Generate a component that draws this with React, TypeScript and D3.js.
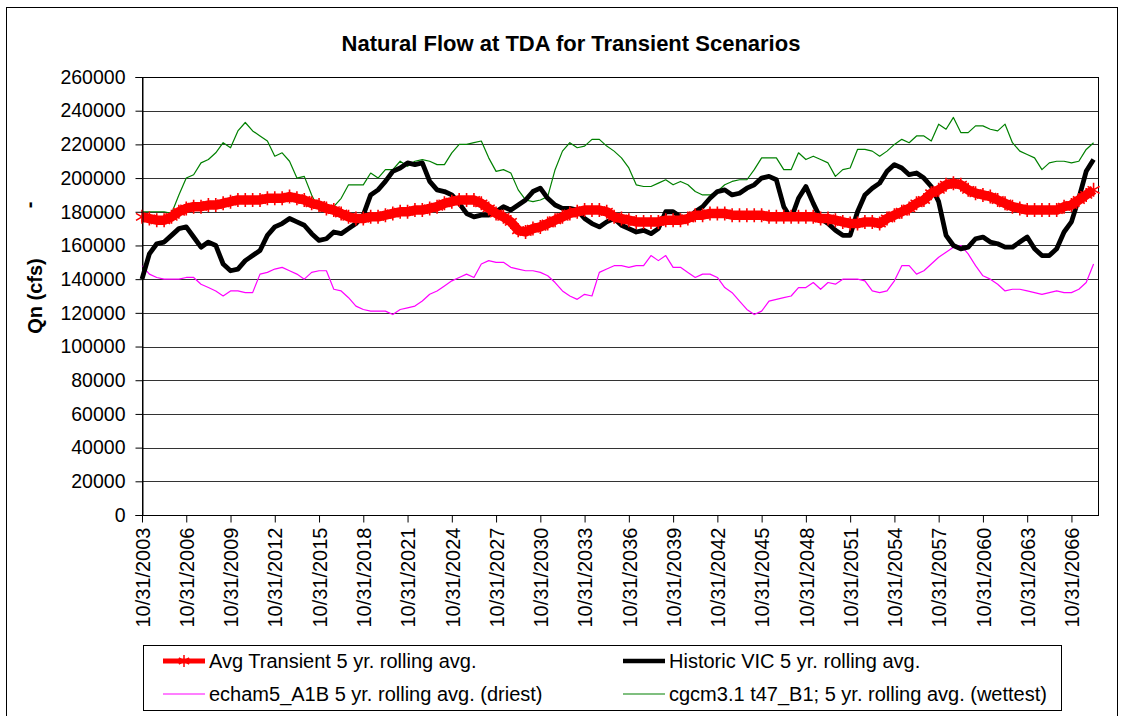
import React, { useRef, useEffect } from "react";
import * as d3 from "d3";

// x-axis category labels, one every 3 years (36 months)
const tickLabels = [
  "10/31/2003", "10/31/2006", "10/31/2009", "10/31/2012", "10/31/2015", "10/31/2018",
  "10/31/2021", "10/31/2024", "10/31/2027", "10/31/2030", "10/31/2033", "10/31/2036",
  "10/31/2039", "10/31/2042", "10/31/2045", "10/31/2048", "10/31/2051", "10/31/2054",
  "10/31/2057", "10/31/2060", "10/31/2063", "10/31/2066",
];

// values every 6 months from 10/31/2003 (cfs)
const avgTransient = [
  177000, 176000, 175000, 175000, 177000, 180000, 182000, 183000, 183000, 184000, 184000, 185000,
  186000, 187000, 187000, 187000, 187000, 188000, 188000, 188000, 189000, 188000, 187000, 185000,
  184000, 182000, 181000, 179000, 177000, 176000, 176000, 177000, 177000,
  178000, 179000, 180000, 180000, 181000, 181000, 182000, 183000, 185000, 186000, 187000, 187000,
  187000, 185000, 182000, 179000, 177000, 174000, 169000, 168000, 170000, 171000, 173000, 175000,
  177000, 179000, 180000, 181000, 181000, 181000, 180000, 177000,
  176000, 175000, 174000, 174000, 174000, 174000, 175000, 175000, 175000, 176000, 178000, 178000,
  179000, 179000, 179000, 178000, 178000, 178000, 178000, 178000, 177000, 177000, 177000, 177000,
  177000, 177000, 177000, 176000, 176000, 175000, 174000, 173000, 173000,
  174000, 174000, 173000, 176000, 178000, 180000, 182000, 185000, 187000, 191000, 193000, 196000,
  197000, 196000, 193000, 191000, 190000, 189000, 187000, 185000, 183000, 182000, 181000, 181000,
  181000, 181000, 181000, 183000, 184000, 187000, 190000, 193000,
];

const historicVic = [
  140000, 155000, 161000, 162000, 166000, 170000, 171000, 165000, 159000, 162000, 160000, 149000,
  145000, 146000, 151000, 154000, 157000, 166000, 171000, 173000, 176000, 174000, 172000, 167000,
  163000, 164000, 168000, 167000, 170000, 173000, 178000, 190000, 193000,
  198000, 204000, 206000, 209000, 208000, 209000, 198000, 193000, 192000, 190000, 185000, 179000,
  177000, 178000, 178000, 180000, 183000, 181000, 184000, 187000, 192000, 194000, 188000, 184000,
  182000, 182000, 181000, 176000, 173000, 171000, 174000, 176000,
  172000, 170000, 168000, 169000, 167000, 170000, 180000, 180000, 177000, 176000, 180000, 183000,
  188000, 192000, 193000, 190000, 191000, 194000, 196000, 200000, 201000, 199000, 183000, 176000,
  188000, 195000, 185000, 176000, 173000, 169000, 166000, 166000, 180000,
  190000, 194000, 197000, 204000, 208000, 206000, 202000, 203000, 200000, 195000, 186000, 166000,
  160000, 158000, 159000, 164000, 165000, 162000, 161000, 159000, 159000, 162000, 165000, 158000,
  154000, 154000, 158000, 168000, 174000, 188000, 204000, 211000,
];

const echam5Driest = [
  148000, 143000, 141000, 140000, 140000, 140000, 141000, 141000, 137000, 135000, 133000, 130000,
  133000, 133000, 132000, 132000, 143000, 144000, 146000, 147000, 145000, 143000, 140000, 144000,
  145000, 145000, 134000, 133000, 129000, 124000, 122000, 121000, 121000,
  121000, 119000, 122000, 123000, 124000, 127000, 131000, 133000, 136000, 139000, 141000, 143000,
  141000, 149000, 151000, 150000, 150000, 147000, 146000, 145000, 145000, 144000, 142000, 138000,
  133000, 130000, 128000, 131000, 130000, 144000, 146000, 148000,
  148000, 147000, 148000, 148000, 154000, 151000, 154000, 147000, 147000, 144000, 141000, 143000,
  143000, 141000, 135000, 132000, 127000, 122000, 119000, 121000, 127000, 128000, 129000, 130000,
  135000, 135000, 138000, 134000, 138000, 137000, 140000, 140000, 140000,
  139000, 133000, 132000, 133000, 139000, 148000, 148000, 143000, 145000, 149000, 153000, 156000,
  159000, 160000, 155000, 148000, 142000, 140000, 137000, 133000, 134000, 134000, 133000, 132000,
  131000, 132000, 133000, 132000, 132000, 134000, 138000, 149000,
];

const cgcmWettest = [
  180000, 180000, 180000, 180000, 179000, 190000, 200000, 202000, 209000, 211000, 215000, 221000,
  218000, 228000, 233000, 228000, 225000, 222000, 213000, 215000, 210000, 200000, 201000, 190000,
  181000, 180000, 183000, 188000, 196000, 196000, 196000, 203000, 200000,
  205000, 205000, 210000, 207000, 210000, 211000, 210000, 208000, 208000, 215000, 220000, 220000,
  221000, 222000, 212000, 204000, 205000, 203000, 193000, 187000, 186000, 187000, 189000, 205000,
  216000, 221000, 218000, 219000, 223000, 223000, 219000, 216000,
  212000, 206000, 196000, 195000, 195000, 197000, 199000, 196000, 198000, 196000, 192000, 190000,
  190000, 192000, 196000, 198000, 199000, 199000, 205000, 212000, 212000, 212000, 205000, 205000,
  215000, 211000, 213000, 211000, 209000, 201000, 205000, 206000, 217000,
  217000, 216000, 213000, 216000, 220000, 223000, 221000, 225000, 225000, 222000, 232000, 229000,
  236000, 227000, 227000, 231000, 231000, 229000, 228000, 232000, 221000, 216000, 214000, 212000,
  205000, 209000, 210000, 210000, 209000, 210000, 217000, 221000,
];

const yTicks = [0, 20000, 40000, 60000, 80000, 100000, 120000, 140000, 160000, 180000, 200000,
  220000, 240000, 260000];

const legendItems = [
  { name: "Avg Transient 5 yr. rolling avg.", color: "#ff0000", width: 5, star: true },
  { name: "Historic VIC 5 yr. rolling avg.", color: "#000000", width: 4.5, star: false },
  { name: "echam5_A1B 5 yr. rolling avg. (driest)", color: "#ff00ff", width: 1.2, star: false },
  { name: "cgcm3.1 t47_B1; 5 yr. rolling avg. (wettest)", color: "#008000", width: 1.2, star: false },
];

const FONT = "Arial, 'Liberation Sans', sans-serif";
const STAR = "M0,-7V7M-6,-3.5L6,3.5M-6,3.5L6,-3.5";
const STAR_SMALL = "M0,-6V6M-5.2,-3L5.2,3M-5.2,3L5.2,-3";

const App = () => {
  const ref = useRef<SVGSVGElement>(null);

  useEffect(() => {
    drawChart();
  }, []);

  const drawChart = () => {
    const svg = d3.select(ref.current);
    svg.selectAll("*").remove();

    const left = 142, right = 1098, top = 77, bottom = 515;

    // samples are 6 months apart, categories run on to ~Aug 2068
    const x = d3.scaleLinear().domain([0, 129.6]).range([left, right]);
    const y = d3.scaleLinear().domain([0, 260000]).range([bottom, top]);

    // chart border
    svg.append("rect")
      .attr("x", 6.5).attr("y", 7.5).attr("width", 1111).attr("height", 800)
      .attr("fill", "white").attr("stroke", "#000").attr("stroke-width", 1);

    svg.append("text")
      .attr("x", 571).attr("y", 51)
      .attr("text-anchor", "middle")
      .attr("font-family", FONT).attr("font-size", 22).attr("font-weight", "bold")
      .text("Natural Flow at TDA for Transient Scenarios");

    // gridlines
    svg.append("g")
      .selectAll("line")
      .data(yTicks)
      .join("line")
      .attr("x1", left).attr("x2", right)
      .attr("y1", (d) => Math.round(y(d)) + 0.5).attr("y2", (d) => Math.round(y(d)) + 0.5)
      .attr("stroke", "#333").attr("stroke-width", 1);

    svg.append("rect")
      .attr("x", left + 0.5).attr("y", Math.round(top) + 0.5)
      .attr("width", right - left).attr("height", Math.round(bottom) - Math.round(top))
      .attr("fill", "none").attr("stroke", "#000");

    const line = d3.line<number>().x((_, i) => x(i)).y((d) => y(d));

    const series = [
      { data: cgcmWettest, color: "#008000", width: 1.2 },
      { data: echam5Driest, color: "#ff00ff", width: 1.2 },
      { data: historicVic, color: "#000000", width: 4.8 },
      { data: avgTransient, color: "#ff0000", width: 9.5 },
    ];
    series.forEach((s) => {
      svg.append("path")
        .datum(s.data)
        .attr("d", line)
        .attr("fill", "none")
        .attr("stroke", s.color)
        .attr("stroke-width", s.width)
        .attr("stroke-linejoin", "round");
    });

    // star markers on the average series
    svg.append("g")
      .selectAll("path")
      .data(avgTransient)
      .join("path")
      .attr("transform", (d, i) => `translate(${x(i)},${y(d)})`)
      .attr("d", STAR)
      .attr("stroke", "#ff0000")
      .attr("stroke-width", 1.6)
      .attr("fill", "none");

    // y axis
    const yAxis = svg.append("g").attr("transform", `translate(${left + 0.5},0)`)
      .call(d3.axisLeft(y).tickValues(yTicks).tickFormat(d3.format("d")).tickSize(7).tickPadding(10));
    yAxis.select(".domain").attr("stroke", "#000");
    yAxis.selectAll("text").attr("font-family", FONT).attr("font-size", 19.5).attr("fill", "#000");

    // x axis: ticks every 6 samples (3 years)
    const tickIdx = tickLabels.map((_, k) => k * 6);
    const xAxis = svg.append("g").attr("transform", `translate(0,${Math.round(bottom) + 0.5})`)
      .call(d3.axisBottom(x).tickValues(tickIdx).tickFormat((_, k) => tickLabels[k]).tickSize(7));
    xAxis.select(".domain").remove();
    xAxis.selectAll("line").attr("stroke", "#000");
    xAxis.selectAll("text")
      .attr("font-family", FONT).attr("font-size", 20).attr("fill", "#000")
      .attr("text-anchor", "end")
      .attr("transform", "rotate(-90)")
      .attr("x", -12).attr("y", 0).attr("dy", "0.36em");

    // y title
    svg.append("text")
      .attr("transform", "translate(42,296) rotate(-90)")
      .attr("text-anchor", "middle")
      .attr("font-family", FONT).attr("font-size", 20).attr("font-weight", "bold")
      .text("Qn (cfs)");
    svg.append("text")
      .attr("transform", "translate(36,205) rotate(-90)")
      .attr("text-anchor", "middle")
      .attr("font-family", FONT).attr("font-size", 20).attr("font-weight", "bold")
      .text("-");

    // legend
    const lg = svg.append("g");
    lg.append("rect")
      .attr("x", 143.5).attr("y", 645.5).attr("width", 918).attr("height", 65)
      .attr("fill", "white").attr("stroke", "#000");
    const pos = [
      { x: 163, y: 661 },
      { x: 623, y: 661 },
      { x: 163, y: 694 },
      { x: 623, y: 694 },
    ];
    legendItems.forEach((item, i) => {
      const p = pos[i];
      lg.append("line")
        .attr("x1", p.x).attr("x2", p.x + 42).attr("y1", p.y).attr("y2", p.y)
        .attr("stroke", item.color).attr("stroke-width", item.width);
      if (item.star) {
        lg.append("path")
          .attr("transform", `translate(${p.x + 21},${p.y})`)
          .attr("d", STAR_SMALL)
          .attr("stroke", item.color).attr("stroke-width", 1.5).attr("fill", "none");
      }
      lg.append("text")
        .attr("x", p.x + 46).attr("y", p.y + 7)
        .attr("font-family", FONT).attr("font-size", 20)
        .text(item.name);
    });
  };

  return (
    <svg ref={ref} width={1122} height={716} style={{ position: "absolute", left: 0, top: 0 }}></svg>
  );
};

export default App;
